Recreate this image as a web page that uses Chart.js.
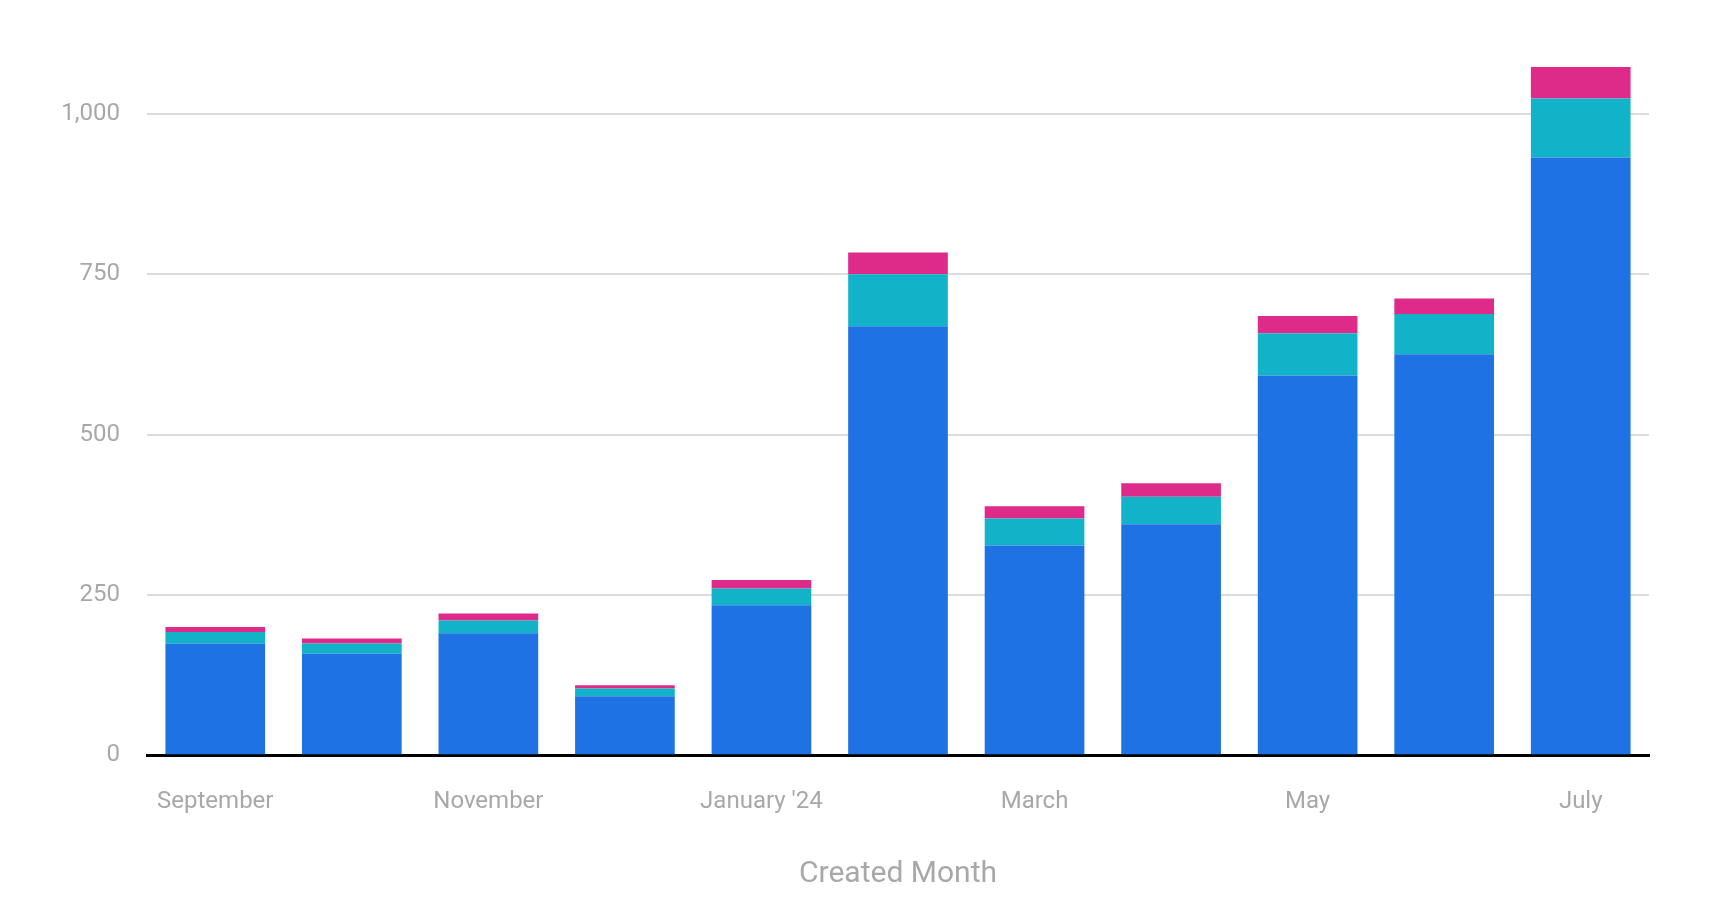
<!DOCTYPE html>
<html>
<head>
<meta charset="utf-8">
<script src="https://cdn.jsdelivr.net/npm/chart.js@4"></script>
<style>
    html, body { margin: 0; padding: 0; background: #ffffff; }
    #wrap { width: 1711px; height: 919px; position: relative; }
</style>
</head>
<body>
<div id="wrap"><canvas id="monthChart"></canvas></div>
<script>
// Data
const months = ['September', 'October', 'November', 'December', "January '24", 'February', 'March', 'April', 'May', 'June', 'July'];
const shownMonths = ['September', 'November', "January '24", 'March', 'May', 'July'];
const blueValues = [174, 158, 190, 92, 234, 669, 327, 360, 592, 625, 932];
const tealValues = [18, 16, 20, 12, 26, 81, 42, 43, 66, 63, 92];
const pinkValues = [8, 8, 11, 5, 13, 34, 19, 21, 27, 24, 49];
const yTicks = [0, 250, 500, 750, 1000];

const labelColor = '#a8a8a8';

const ctx = document.getElementById('monthChart').getContext('2d');
const monthChart = new Chart(ctx, {
    type: 'bar',
    data: {
        labels: months,
        datasets: [
            { label: 'Series 1', data: blueValues, backgroundColor: '#1e72e4' },
            { label: 'Series 2', data: tealValues, backgroundColor: '#12b3c9' },
            { label: 'Series 3', data: pinkValues, backgroundColor: '#de2a88' }
        ]
    },
    options: {
        responsive: true,
        maintainAspectRatio: false,
        animation: false,
        datasets: {
            bar: { barPercentage: 0.73, categoryPercentage: 1, borderWidth: 0 }
        },
        layout: { padding: { top: 17, right: 62, bottom: 27, left: 0 } },
        plugins: {
            legend: { display: false },
            tooltip: { enabled: false }
        },
        scales: {
            x: {
                stacked: true,
                grid: { display: false, drawTicks: false },
                border: { display: true, color: '#000000', width: 3 },
                ticks: {
                    color: labelColor,
                    font: { family: 'Roboto', size: 24 },
                    padding: 32,
                    maxRotation: 0,
                    autoSkip: false,
                    callback: function(value, index) {
                        const name = months[index];
                        return shownMonths.includes(name) ? name : '';
                    }
                },
                title: {
                    display: true,
                    text: 'Created Month',
                    color: labelColor,
                    font: { family: 'Roboto', size: 30 },
                    padding: { top: 8, bottom: 0 }
                }
            },
            y: {
                stacked: true,
                min: 0,
                max: 1113,
                afterBuildTicks: function(scale) {
                    scale.ticks = yTicks.map(v => ({ value: v }));
                },
                afterFit: function(scale) {
                    scale.width = 147;
                },
                grid: { color: '#dcdcdc', lineWidth: 2, drawTicks: false },
                border: { display: false },
                ticks: {
                    color: labelColor,
                    font: { family: 'Roboto', size: 24 },
                    padding: 27
                }
            }
        }
    }
});
</script>
</body>
</html>
